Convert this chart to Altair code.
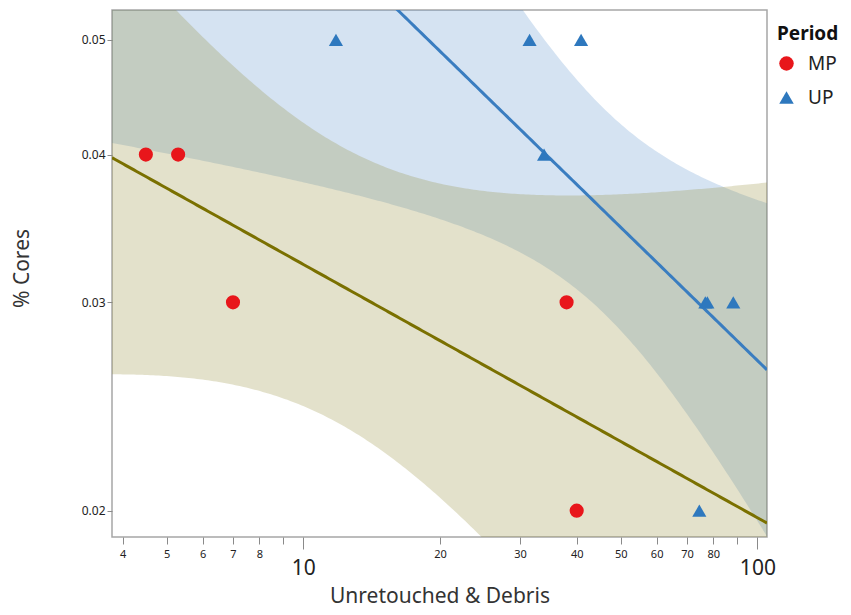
import altair as alt
import numpy as np
import pandas as pd

# ---- data ----
mp_x = [4.5, 5.3, 7.0, 38.0, 40.0]
mp_y = [0.04, 0.04, 0.03, 0.03, 0.02]
up_x = [11.8, 31.5, 40.9, 33.9, 76.8, 77.6, 88.5, 74.5]
up_y = [0.05, 0.05, 0.05, 0.04, 0.03, 0.03, 0.03, 0.02]
periods = ["MP", "UP"]
x_ticks = [4, 5, 6, 7, 8, 9, 10, 20, 30, 40, 50, 60, 70, 80, 90, 100]
y_ticks = [0.02, 0.03, 0.04, 0.05]
x_dom = [3.79, 105]
y_dom = [0.019, 0.053]
t_crit = {"MP": 3.182, "UP": 2.447}  # 95% two-sided, df = n-2

points = pd.DataFrame({
    "x": mp_x + up_x,
    "y": mp_y + up_y,
    "Period": ["MP"] * len(mp_x) + ["UP"] * len(up_x),
})


def fit(xs, ys, t):
    lx = np.log10(np.array(xs))
    ly = np.log10(np.array(ys))
    n = len(lx)
    mx, my = lx.mean(), ly.mean()
    sxx = ((lx - mx) ** 2).sum()
    b1 = ((lx - mx) * (ly - my)).sum() / sxx
    b0 = my - b1 * mx
    s = np.sqrt(((ly - (b0 + b1 * lx)) ** 2).sum() / (n - 2))
    g = np.linspace(np.log10(x_dom[0]), np.log10(x_dom[1]), 240)
    pred = b0 + b1 * g
    se = s * np.sqrt(1 / n + (g - mx) ** 2 / sxx)
    return pd.DataFrame({
        "x": 10 ** g,
        "fit": 10 ** pred,
        "lo": 10 ** (pred - t * se),
        "hi": 10 ** (pred + t * se),
    })


mp_fit = fit(mp_x, mp_y, t_crit["MP"])
up_fit = fit(up_x, up_y, t_crit["UP"])

xs = alt.Scale(type="log", domain=x_dom, nice=False)
ys = alt.Scale(type="log", domain=y_dom, nice=False)

big = "datum.value == 10 || datum.value == 100"
x_axis = alt.Axis(
    values=x_ticks,
    format="d",
    labelExpr="datum.value == 9 || datum.value == 90 ? '' : datum.label",
    labelFontSize=alt.condition(big, alt.value(21), alt.value(11)),
    tickSize=alt.condition(big, alt.value(12), alt.value(7)),
    labelPadding=alt.condition(big, alt.value(8), alt.value(4)),
    labelColor="#222222",
    tickColor="#8a8a8a",
    domain=False,
    grid=False,
    title="Unretouched & Debris",
    titleFontSize=21,
    titleFontWeight="normal",
    titleColor="#333333",
    titleY=69,
    titleBaseline="bottom",
)
y_axis = alt.Axis(
    values=y_ticks,
    format=".2f",
    labelFontSize=12,
    labelColor="#222222",
    labelPadding=2,
    tickColor="#8a8a8a",
    tickSize=5,
    domain=False,
    grid=False,
    title="% Cores",
    titleFontSize=21,
    titleFontWeight="normal",
    titleColor="#333333",
    titleX=-90,
    titleY=258,
    titleAngle=-90,
    titleAlign="center",
    titleBaseline="middle",
)

up_band = alt.Chart(up_fit).mark_area(color="#3A7DC0", opacity=0.21, clip=True).encode(
    x=alt.X("x:Q", scale=xs, axis=x_axis),
    y=alt.Y("lo:Q", scale=ys, axis=y_axis),
    y2="hi:Q",
)
mp_band = alt.Chart(mp_fit).mark_area(color="#8F872F", opacity=0.25, clip=True).encode(
    x=alt.X("x:Q", scale=xs),
    y=alt.Y("lo:Q", scale=ys),
    y2="hi:Q",
)
up_line = alt.Chart(up_fit).mark_line(color="#3A7DC0", strokeWidth=3, clip=True).encode(
    x=alt.X("x:Q", scale=xs),
    y=alt.Y("fit:Q", scale=ys),
)
mp_line = alt.Chart(mp_fit).mark_line(color="#7A7000", strokeWidth=3, clip=True).encode(
    x=alt.X("x:Q", scale=xs),
    y=alt.Y("fit:Q", scale=ys),
)
pts = alt.Chart(points).mark_point(filled=True, opacity=1, size=200).encode(
    x=alt.X("x:Q", scale=xs),
    y=alt.Y("y:Q", scale=ys),
    color=alt.Color("Period:N", scale=alt.Scale(domain=periods, range=["#E8161B", "#2E78BE"]),
                    legend=alt.Legend(title="Period")),
    shape=alt.Shape("Period:N", scale=alt.Scale(domain=periods, range=["circle", "triangle-up"]),
                    legend=alt.Legend(title="Period")),
)

chart = alt.layer(up_band, mp_band, up_line, mp_line, pts).properties(
    width=655,
    height=527,
    autosize=alt.AutoSizeParams(type="none"),
    padding={"left": 104, "top": 2, "right": 76, "bottom": 70},
).configure(
    font="Noto Sans",
).configure_view(
    stroke="#a6a6a6",
    strokeWidth=1.5,
).configure_legend(
    orient="none",
    legendX=665,
    legendY=15,
    padding=0,
    titleFontSize=19,
    titleFontWeight="bold",
    titleColor="#111111",
    labelFontSize=19,
    labelColor="#222222",
    symbolSize=210,
    rowPadding=14,
    labelOffset=12,
    titlePadding=10,
)

chart.save("out.html", embed_options={"renderer": "svg", "actions": False})
